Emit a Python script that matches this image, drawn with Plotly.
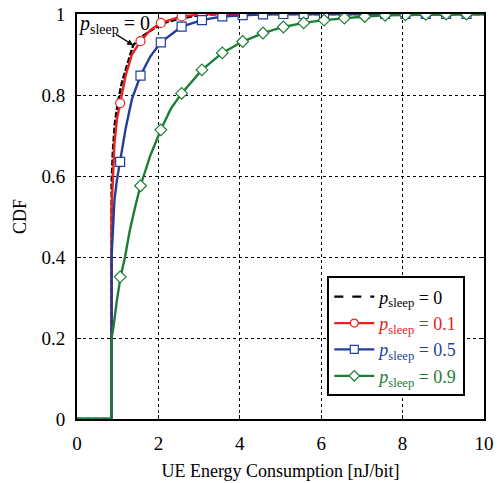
import plotly.graph_objects as go

# Empirical CDF curves of UE energy consumption for different sleep probabilities
curve_x_p0 = [0, 0.85, 0.85, 0.88, 0.93, 1.0, 1.1, 1.25, 1.38, 1.6, 1.9, 2.2, 2.6, 3.0, 3.5, 10]
curve_y_p0 = [0, 0, 0.58, 0.66, 0.73, 0.78, 0.83, 0.88, 0.923, 0.945, 0.965, 0.98, 0.99, 0.997, 1.0, 1.0]

curve_x_p01 = [0, 0.85, 0.85, 0.88, 0.92, 0.98, 1.06, 1.2, 1.35, 1.56, 1.8, 2.06, 2.57, 3.07, 3.57, 10]
curve_y_p01 = [0, 0, 0.52, 0.6, 0.68, 0.74, 0.78, 0.85, 0.9, 0.933, 0.96, 0.978, 0.994, 0.999, 1.0, 1.0]

curve_x_p05 = [0, 0.85, 0.85, 0.88, 0.92, 0.98, 1.06, 1.2, 1.35, 1.56, 1.8, 2.06, 2.57, 3.07, 3.57,
               4.07, 4.57, 5.07, 10]
curve_y_p05 = [0, 0, 0.4, 0.48, 0.54, 0.59, 0.635, 0.72, 0.79, 0.848, 0.895, 0.93, 0.969, 0.985, 0.994,
               0.997, 0.999, 1.0, 1.0]

curve_x_p09 = [0, 0.85, 0.85, 0.9, 0.97, 1.07, 1.18, 1.3, 1.43, 1.56, 1.8, 2.06, 2.3, 2.57, 3.07, 3.57,
               4.07, 4.57, 5.07, 5.57, 6.07, 6.57, 7.07, 7.57, 8.07, 8.57, 9.07, 9.57, 10]
curve_y_p09 = [0, 0, 0.2, 0.23, 0.286, 0.351, 0.4, 0.467, 0.524, 0.576, 0.65, 0.714, 0.765, 0.804, 0.862,
               0.904, 0.932, 0.953, 0.968, 0.978, 0.985, 0.99, 0.994, 0.997, 0.998, 0.999, 1.0, 1.0, 1.0]

# Marker positions along the curves
marker_x = [1.06, 1.56, 2.06, 2.57, 3.07, 3.57, 4.07, 4.57, 5.07, 5.57, 6.07, 6.57, 7.07, 7.57,
            8.07, 8.57, 9.07, 9.57]
marker_y_p01 = [0.78, 0.933, 0.978, 0.994, 0.999, 1.0, 1.0, 1.0, 1.0, 1.0, 1.0, 1.0, 1.0, 1.0,
                1.0, 1.0, 1.0, 1.0]
marker_y_p05 = [0.635, 0.848, 0.93, 0.969, 0.985, 0.994, 0.997, 0.999, 1.0, 1.0, 1.0, 1.0, 1.0, 1.0,
                1.0, 1.0, 1.0, 1.0]
marker_y_p09 = [0.351, 0.576, 0.714, 0.804, 0.862, 0.904, 0.932, 0.953, 0.968, 0.978, 0.985, 0.99,
                0.994, 0.997, 0.998, 0.999, 1.0, 1.0]

x_ticks = [0, 2, 4, 6, 8, 10]
y_ticks = [0, 0.2, 0.4, 0.6, 0.8, 1]
y_tick_text = ["0", "0.2", "0.4", "0.6", "0.8", "1"]

BLACK = "#000000"
RED = "#e8201e"
BLUE = "#1f3f9a"
GREEN = "#1e7d34"
FONT = "Liberation Serif"
MARKER_SIZE = {"circle": 9, "square": 9, "diamond": 9}


def label(value, color):
    return f"<span style='color:{color}'><i>p</i><sub>sleep</sub> = {value}</span>"


series = [
    ("0", BLACK, curve_x_p0, curve_y_p0, None, None, "6px,2px"),
    ("0.1", RED, curve_x_p01, curve_y_p01, marker_y_p01, "circle", "solid"),
    ("0.5", BLUE, curve_x_p05, curve_y_p05, marker_y_p05, "square", "solid"),
    ("0.9", GREEN, curve_x_p09, curve_y_p09, marker_y_p09, "diamond", "solid"),
]

fig = go.Figure()

for value, color, cx, cy, my, symbol, dash in series:
    fig.add_trace(go.Scatter(
        x=cx, y=cy, mode="lines",
        line=dict(color=color, width=2.4, dash=dash),
        showlegend=False, hoverinfo="skip",
    ))
    if my is not None:
        fig.add_trace(go.Scatter(
            x=marker_x, y=my, mode="markers",
            marker=dict(symbol=symbol, size=MARKER_SIZE[symbol],
                        color="white", line=dict(color=color, width=1.2)),
            showlegend=False,
        ))
    # legend entry
    fig.add_trace(go.Scatter(
        x=[None], y=[None],
        mode="lines+markers" if symbol else "lines",
        line=dict(color=color, width=2.2, dash="dash" if symbol is None else "solid"),
        marker=dict(symbol=symbol or "circle", size=MARKER_SIZE.get(symbol, 9) - 1,
                    color="white", line=dict(color=color, width=1.2)),
        name=label(value, color),
    ))

# Callout for the p_sleep = 0 curve
fig.add_annotation(
    x=1.38, y=0.923, ax=0.92, ay=0.952, xref="x", yref="y", axref="x", ayref="y",
    text="", showarrow=True, arrowhead=2, arrowsize=1, arrowwidth=1.2, arrowcolor=BLACK,
)
fig.add_annotation(
    x=0.9, y=0.973, xref="x", yref="y",
    text="<i>p</i><sub>sleep</sub> = 0", showarrow=False,
    font=dict(family=FONT, size=20, color=BLACK),
    bgcolor="rgba(255,255,255,0)",
)

axis_common = dict(
    showline=True, linecolor=BLACK, linewidth=2, mirror="ticks",
    ticks="inside", ticklen=4, tickcolor=BLACK, ticklabelstandoff=6,
    showgrid=True, gridcolor=BLACK, gridwidth=1, griddash="dot",
    zeroline=False, automargin=False,
    tickfont=dict(family=FONT, size=19, color=BLACK),
)

fig.update_layout(
    width=499, height=483,
    margin=dict(l=77, r=15, t=14, b=64),
    paper_bgcolor="white", plot_bgcolor="white",
    font=dict(family=FONT, color=BLACK),
    xaxis=dict(range=[0, 10], tickvals=x_ticks,
               title=dict(text="UE Energy Consumption [nJ/bit]", font=dict(family=FONT, size=18), standoff=12),
               **axis_common),
    yaxis=dict(range=[0, 1], tickvals=y_ticks, ticktext=y_tick_text,
               title=dict(text="CDF", font=dict(family=FONT, size=18), standoff=10),
               **axis_common),
    legend=dict(
        x=0.615, y=0.352, xanchor="left", yanchor="top",
        bgcolor="white", bordercolor=BLACK, borderwidth=2,
        font=dict(family=FONT, size=18, color=BLACK),
        tracegroupgap=0, itemwidth=40,
    ),
)

fig.write_html("out.html")
